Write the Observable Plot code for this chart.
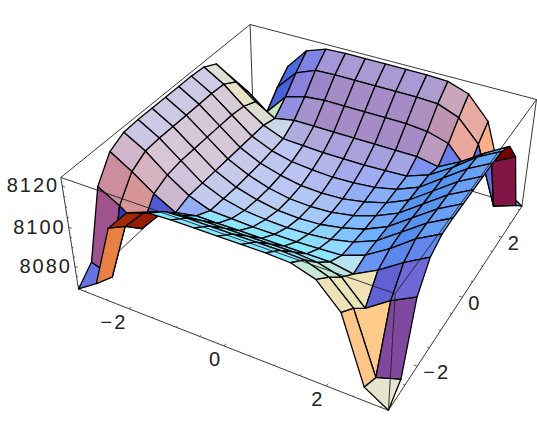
<!DOCTYPE html>
<html><head><meta charset="utf-8">
<script src="https://cdn.jsdelivr.net/npm/d3@7"></script>
<script src="https://cdn.jsdelivr.net/npm/@observablehq/plot@0.6"></script>
<style>html,body{margin:0;padding:0;background:#fff}svg{display:block}</style>
</head><body><div id="chart"></div>
<script>
const xExtent = [-Math.PI, Math.PI];
const yExtent = [-Math.PI, Math.PI];
const zExtent = [8068, 8124];
const surfaceZ = [
[8068,8075,8107,8118,8121.5,8122,8122,8122,8122,8122,8121.5,8118,8107,8075,8068],
[8075,8071,8101,8111.5,8115.5,8116,8116,8116,8116,8116,8115.5,8111.5,8101,8071,8075],
[8107,8101,8093,8104,8107,8108,8108,8108,8108,8108,8107,8104,8093,8101,8107],
[8118,8111.5,8104,8098,8100,8100,8100,8100,8100,8100,8100,8098,8104,8111.5,8118],
[8121.5,8115.5,8107,8100,8096,8095.5,8095,8095,8095,8095.5,8096,8100,8107,8115.5,8121.5],
[8122,8116,8108,8100,8095.5,8093,8092,8091.5,8092,8093,8095.5,8100,8108,8116,8122],
[8122,8116,8108,8100,8095,8092,8090,8089.5,8090,8092,8095,8100,8108,8116,8122],
[8122,8116,8108,8100,8095,8091.5,8089.5,8089,8089.5,8091.5,8095,8100,8108,8116,8122],
[8122,8116,8108,8100,8095,8092,8090,8089.5,8090,8092,8095,8100,8108,8116,8122],
[8122,8116,8108,8100,8095.5,8093,8092,8091.5,8092,8093,8095.5,8100,8108,8116,8122],
[8121.5,8115.5,8107,8100,8096,8095.5,8095,8095,8095,8095.5,8096,8100,8107,8115.5,8121.5],
[8118,8111.5,8104,8098,8100,8100,8100,8100,8100,8100,8100,8098,8104,8111.5,8118],
[8107,8101,8093,8104,8107,8108,8108,8108,8108,8108,8107,8104,8093,8101,8107],
[8075,8071,8101,8111.5,8115.5,8116,8116,8116,8116,8116,8115.5,8111.5,8101,8071,8075],
[8068,8075,8107,8118,8121.5,8122,8122,8122,8122,8122,8121.5,8118,8107,8075,8068]
];
const horizontalTicks = [-3,-2.5,-2,-1.5,-1,-0.5,0,0.5,1,1.5,2,2.5,3];
const horizontalLabels = [-2,0,2];
const zTicks = [8070,8075,8080,8085,8090,8095,8100,8105,8110,8115,8120];
const zLabels = [8080,8100,8120];

const viewPoint = [1.3,-2.4,2], boxRatio = [1,1,0.4];
const vlen = Math.hypot(...viewPoint);
const f = viewPoint.map(v=>-v/vlen);
const rl = Math.hypot(f[1],f[0]);
const r = [f[1]/rl,-f[0]/rl,0];
const u = [r[1]*f[2]-r[2]*f[1], r[2]*f[0]-r[0]*f[2], r[0]*f[1]-r[1]*f[0]];
const dot=(a,b)=>a[0]*b[0]+a[1]*b[1]+a[2]*b[2];
const toBox=(x,y,z)=>[(x-xExtent[0])/(xExtent[1]-xExtent[0])-0.5,(y-yExtent[0])/(yExtent[1]-yExtent[0])-0.5,((z-zExtent[0])/(zExtent[1]-zExtent[0])-0.5)*boxRatio[2]];
const project=p=>{const d=dot(p,f)+vlen;return {sx:dot(p,r)/d,sy:dot(p,u)/d,d};};
const P=(x,y,z)=>project(toBox(x,y,z));

const n = surfaceZ.length;
const gx=i=>xExtent[0]+i/(n-1)*(xExtent[1]-xExtent[0]);
const gy=j=>yExtent[0]+j/(n-1)*(yExtent[1]-yExtent[0]);
// facet shade from the normal at the cell's first corner (a), with b along x and d along y
function shade(a,b,c,d){
  const e1=b.map((v,k)=>v-a[k]), e2=d.map((v,k)=>v-a[k]);
  let nrm=[e1[1]*e2[2]-e1[2]*e2[1],e1[2]*e2[0]-e1[0]*e2[2],e1[0]*e2[1]-e1[1]*e2[0]];
  const m=Math.hypot(...nrm); nrm=nrm.map(v=>v/m);
  let vn=[dot(nrm,r),dot(nrm,u),-dot(nrm,f)];
  if(vn[2]<0) vn=vn.map(v=>-v);
  const [nr,nu,nv]=vn;
  const low=Math.max(0,-nu-0.7);
  const t=Math.max(0,nr)*Math.max(0,nu)*Math.max(0,nv-0.45)*4;
  const w=Math.max(0,nu-0.85);
  const rgb=[
    0.5+0.42*nr+0.3*nv-0.5*low-0.4*t-1.1*w,
    0.44+0.3*nr+0.35*nu+0.1*nv-0.6*low-0.2*t+0.4*w,
    0.52-0.1*nr+0.4*nu+0.2*nv-0.8*low+0.25*t+1.5*w-0.5*Math.max(0,nv-0.75)
  ];
  const out=rgb.map(v=>Math.round(255*Math.max(0,Math.min(1,v))));
  return `rgb(${out[0]},${out[1]},${out[2]})`;
}
const quads=[];
for(let j=0;j<n-1;j++)for(let i=0;i<n-1;i++){
  const cs=[[i,j],[i+1,j],[i+1,j+1],[i,j+1]].map(([a,b])=>toBox(gx(a),gy(b),surfaceZ[b][a]));
  const depth=d3.mean(cs,c=>project(c).d);
  quads.push({cs,depth,fill:shade(...cs)});
}
quads.sort((a,b)=>b.depth-a.depth);
const polyRows=[];
quads.forEach((q,id)=>{[...q.cs,q.cs[0]].forEach(c=>{const s=project(c);polyRows.push({id,sx:s.sx,sy:s.sy,fill:q.fill});});});

const [x0,x1]=xExtent,[y0,y1]=yExtent,[z0,z1]=zExtent;
const edge=(a,b)=>({a:P(...a),b:P(...b)});
const backEdges=[edge([x0,y0,z1],[x0,y1,z1]),edge([x0,y1,z1],[x1,y1,z1]),edge([x0,y1,z1],[x0,y1,z0]),edge([x0,y1,z0],[x0,y0,z0]),edge([x0,y1,z0],[x1,y1,z0]),edge([x1,y1,z0],[x1,y1,z1]),edge([x0,y0,z0],[x0,y0,z1])];
const frontEdges=[edge([x0,y0,z0],[x1,y0,z0]),edge([x1,y0,z0],[x1,y1,z0]),edge([x1,y0,z0],[x1,y0,z1]),edge([x0,y0,z1],[x1,y0,z1]),edge([x1,y0,z1],[x1,y1,z1])];
const major=0.065, minor=0.035;
const tickLinks=[
 ...horizontalTicks.map(t=>{const L=horizontalLabels.includes(t)?major:minor;return edge([t,y0,z0],[t,y0+L,z0]);}),
 ...horizontalTicks.map(t=>{const L=horizontalLabels.includes(t)?major:minor;return edge([x1,t,z0],[x1-L,t,z0]);}),
 ...zTicks.map(t=>{const L=zLabels.includes(t)?major:minor;return edge([x0,y0,t],[x0+L,y0,t]);})
];
const fmt=v=>v<0?"\u2212"+(-v):String(v);
const xLab=horizontalLabels.map(t=>({...P(t,y0,z0),t:fmt(t)}));
const yLab=horizontalLabels.map(t=>({...P(x1,t,z0),t:fmt(t)}));
const zLab=zLabels.map(t=>({...P(x0,y0,t),t:String(t)}));

const scale=1143, cx=310, cy=192.5;
const edgeOpts={x1:d=>d.a.sx,y1:d=>d.a.sy,x2:d=>d.b.sx,y2:d=>d.b.sy,stroke:"#222",strokeWidth:0.9};
const txt={x:"sx",y:"sy",text:"t",fontSize:20,fill:"#222",fontFamily:"Liberation Sans"};
const plot=Plot.plot({
  width:537,height:436,margin:0,
  x:{domain:[-cx/scale,(537-cx)/scale],range:[0,537],axis:null},
  y:{domain:[cy/scale,(cy-436)/scale],range:[0,436],axis:null},
  color:{type:"identity"},
  style:{background:"#fff",overflow:"visible"},
  marks:[
    Plot.link(backEdges,edgeOpts),
    Plot.line(polyRows,{x:"sx",y:"sy",z:"id",fill:"fill",stroke:"#000",strokeWidth:1.3,strokeLinejoin:"round",curve:"linear"}),
    Plot.link(frontEdges,edgeOpts),
    Plot.link(tickLinks,{...edgeOpts,strokeWidth:0.7}),
    Plot.text(xLab,{...txt,textAnchor:"end",dx:-2,dy:14}),
    Plot.text(yLab,{...txt,textAnchor:"start",dx:6,dy:6}),
    Plot.text(zLab,{...txt,textAnchor:"end",dx:-3,dy:0})
  ]
});
plot.style.letterSpacing="2px";
document.getElementById("chart").appendChild(plot);
</script></body></html>
